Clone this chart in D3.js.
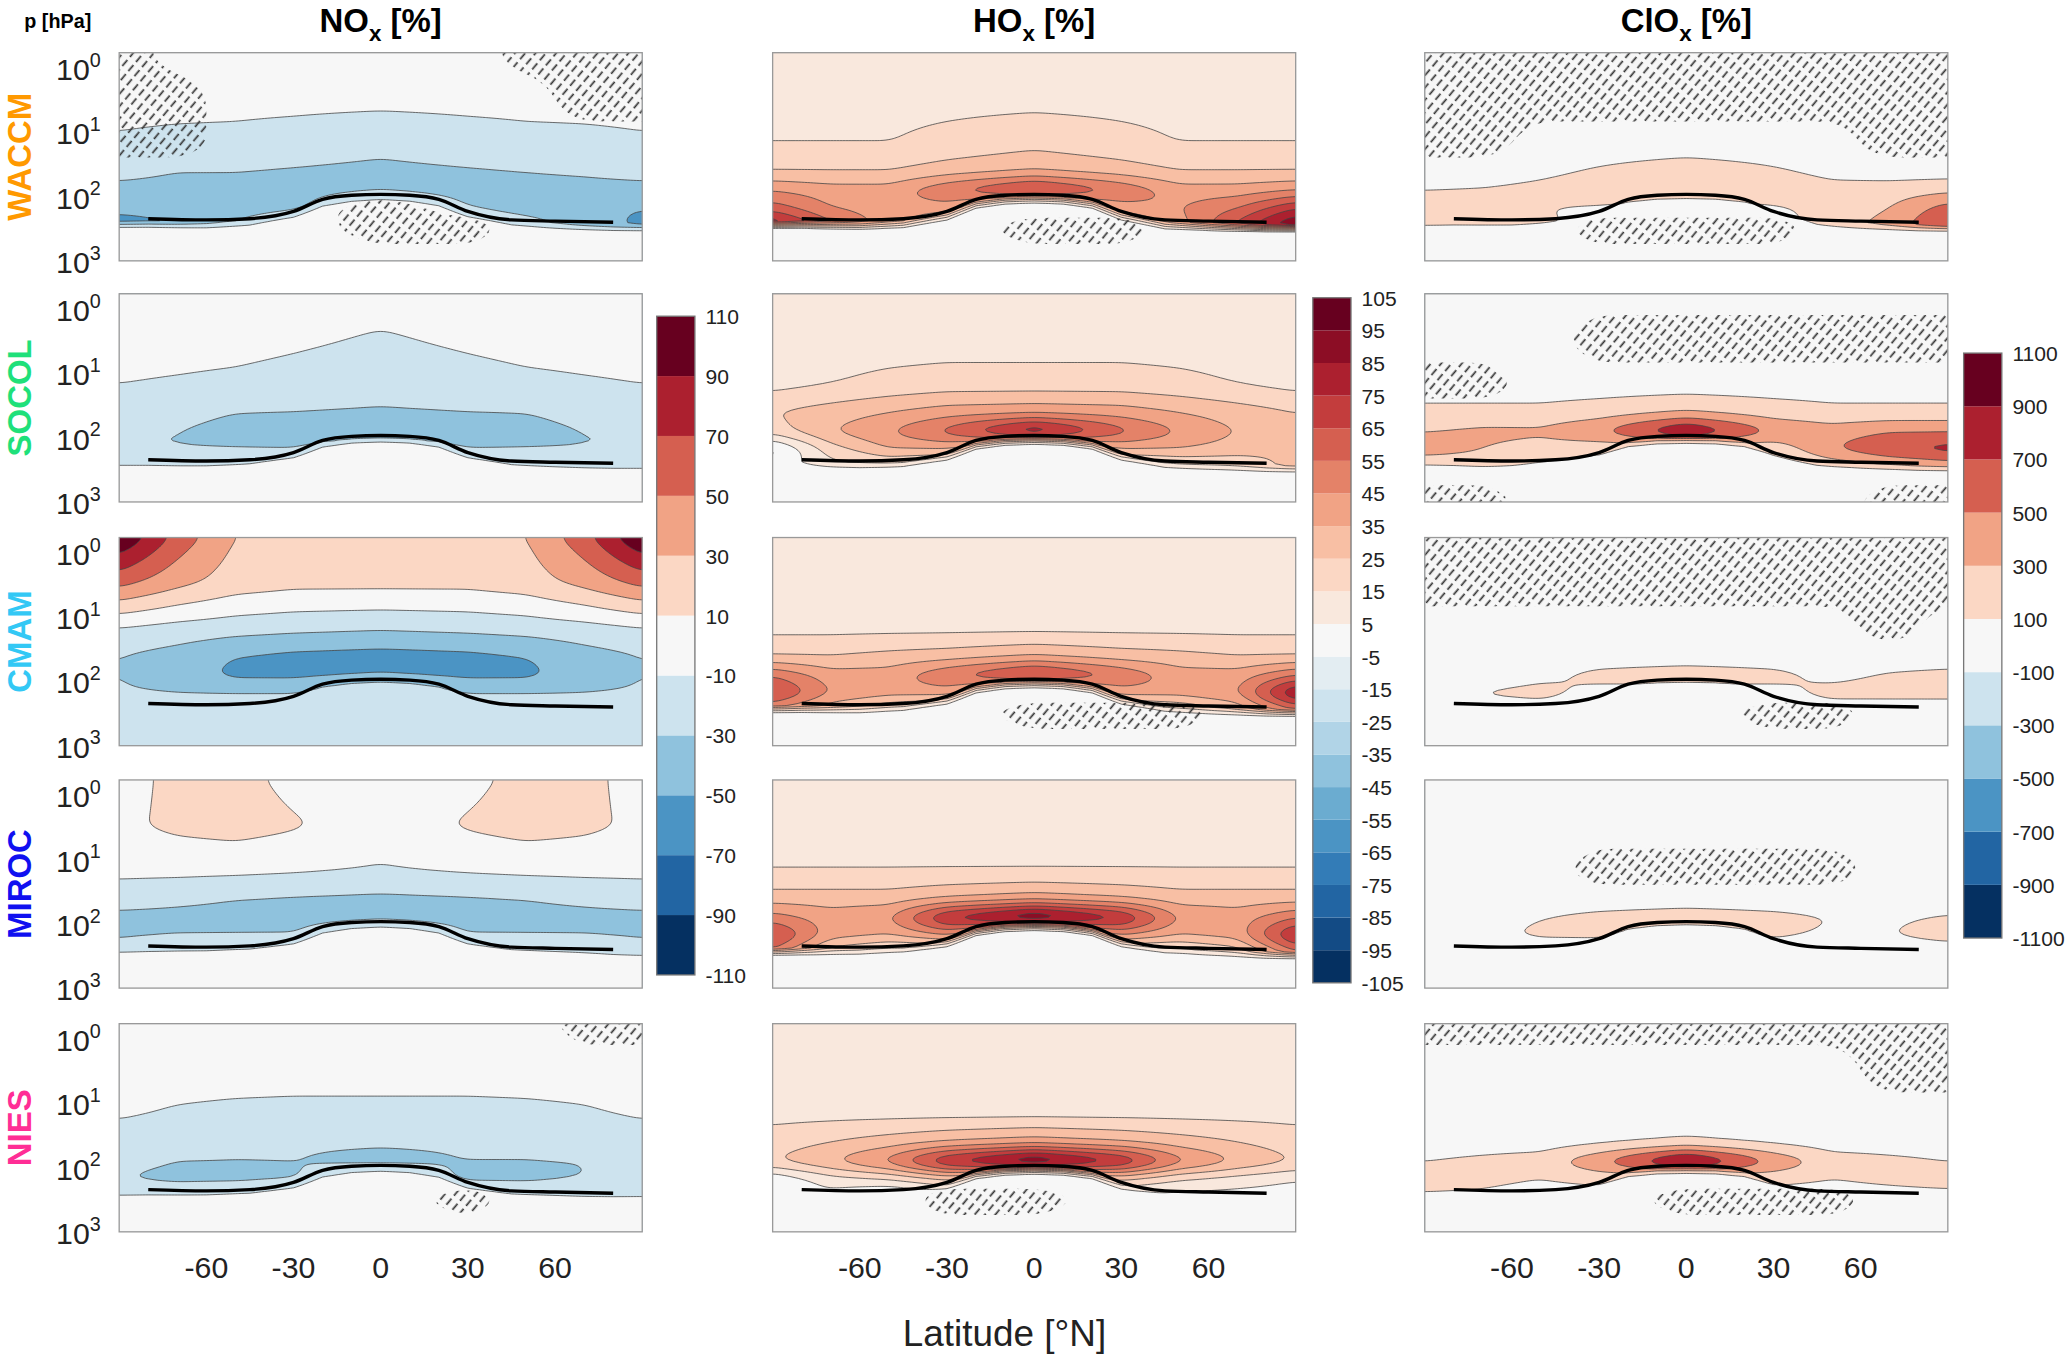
<!DOCTYPE html>
<html><head><meta charset="utf-8">
<script src="https://cdn.jsdelivr.net/npm/d3@7"></script>
<style>body{margin:0;background:#fff}</style></head>
<body><svg id="c" width="2067" height="1357" viewBox="0 0 1568 1030"></svg>
<script>
// ---------- data ----------
const models = ["WACCM","SOCOL","CMAM","MIROC","NIES"];
const modelColors = ["#ff9900","#1fe07a","#33c8f5","#1010f0","#ff2d95"];
const species = ["NO","HO","ClO"];
const gridLats = [-90,-70,-50,-30,0,30,50,70,90];
const gridLevels = [1000,300,150,80,40,15,3,0.5]; // rows bottom -> top
const yTickExp = [0,1,2,3];
const xTicks = [-60,-30,0,30,60];
const noxLevels = [-110,-90,-70,-50,-30,-10,10,30,50,70,90,110];
const hoxLevels = [-105,-95,-85,-75,-65,-55,-45,-35,-25,-15,-5,5,15,25,35,45,55,65,75,85,95,105];
const cloxLevels = [-1100,-900,-700,-500,-300,-100,100,300,500,700,900,1100];
const tropLat = [-80,-60,-45,-30,-20,-10,0,10,20,30,45,60,80];
const tropP = [220,230,220,170,110,95,92,95,110,170,230,240,250];

const noxWACCM = [[0,0,0,0,0,0,0,0,0],[-60,-50,-25,0,0,0,-15,-40,-55],[-45,-45,-40,-35,0,-30,-40,-45,-50],[-35,-35,-35,-35,-32,-35,-35,-35,-35],[-25,-30,-30,-32,-35,-32,-30,-28,-25],[-12,-14,-15,-18,-24,-18,-15,-14,-12],[-5,-5,-5,-5,-5,-5,-5,-5,-5],[0,0,0,0,0,0,0,0,0]];
const noxSOCOL = [[0,0,0,0,0,0,0,0,0],[-15,-15,-10,0,0,0,-10,-15,-15],[-30,-30,-30,-30,0,-30,-30,-30,-30],[-30,-30,-35,-42,-52,-42,-35,-30,-30],[-20,-25,-30,-30,-32,-30,-30,-25,-20],[-10,-12,-14,-17,-22,-17,-14,-12,-10],[-3,-3,-4,-7,-12,-7,-4,-3,-3],[-2,-2,-2,-2,-2,-2,-2,-2,-2]];
const noxCMAM = [[-12,-12,-12,-12,-12,-12,-12,-12,-12],[-15,-15,-12,-12,-12,-12,-12,-15,-15],[-28,-30,-30,-30,-5,-30,-30,-30,-28],[-30,-40,-55,-55,-50,-55,-55,-40,-30],[-30,-38,-50,-55,-58,-55,-50,-38,-30],[-12,-18,-22,-25,-28,-25,-22,-18,-12],[55,35,20,15,15,15,20,35,55],[115,65,30,25,25,25,30,65,115]];
const noxMIROC = [[0,0,0,0,0,0,0,0,0],[-20,-10,-5,0,0,0,-5,-10,-20],[-32,-30,-30,-30,0,-30,-30,-30,-32],[-35,-35,-35,-35,-35,-35,-35,-35,-35],[-22,-26,-30,-32,-34,-32,-30,-26,-22],[-5,-5,-6,-8,-12,-8,-6,-5,-5],[6,14,18,12,0,12,18,14,6],[4,14,15,5,0,5,15,14,4]];
const noxNIES = [[0,0,0,0,0,0,0,0,0],[-15,-10,-5,0,0,0,-5,-10,-10],[-30,-35,-35,-32,-5,-35,-35,-30,-25],[-25,-30,-30,-30,-35,-30,-30,-30,-25],[-20,-25,-28,-28,-28,-28,-28,-25,-20],[-8,-12,-14,-15,-15,-15,-14,-12,-8],[-3,-3,-3,-3,-3,-3,-3,-3,-3],[-2,-2,-2,-2,-2,-2,-2,-2,-2]];

const hoxWACCM = [[0,0,0,0,0,0,0,0,0],[90,60,40,15,0,15,40,70,100],[60,45,40,40,3,40,45,55,75],[45,40,40,55,75,55,40,40,45],[25,25,25,30,35,30,25,25,25],[15,15,15,18,22,18,15,15,15],[12,12,12,12,12,12,12,12,12],[12,12,12,12,12,12,12,12,12]];
const hoxSOCOL = [[0,0,0,0,0,0,0,0,0],[0,10,10,0,0,0,10,15,30],[-10,20,35,35,5,35,35,30,25],[20,35,45,60,90,60,45,35,30],[25,30,35,40,42,40,35,30,25],[12,15,18,20,20,20,18,15,12],[10,10,10,10,10,10,10,10,10],[10,10,10,10,10,10,10,10,10]];
const hoxCMAM = [[0,0,0,0,0,0,0,0,0],[40,25,10,0,0,0,10,25,50],[70,45,40,40,0,40,40,45,90],[55,40,40,55,75,55,40,40,55],[25,25,28,30,35,30,28,25,25],[12,12,12,12,12,12,12,12,12],[10,10,10,10,10,10,10,10,10],[10,10,10,10,10,10,10,10,10]];
const hoxMIROC = [[0,0,0,0,0,0,0,0,0],[50,15,5,0,0,0,5,15,50],[70,40,35,45,0,45,35,40,80],[50,40,45,80,105,80,45,40,55],[30,30,30,35,40,35,30,30,30],[15,15,15,15,15,15,15,15,15],[12,12,12,12,12,12,12,12,12],[8,8,8,8,8,8,8,8,8]];
const hoxNIES = [[0,0,0,0,0,0,0,0,0],[0,0,-12,-4,0,0,0,0,0],[-5,10,15,25,0,25,15,10,5],[25,35,50,80,105,80,50,35,25],[20,25,30,35,40,35,30,25,20],[12,12,12,12,12,12,12,12,12],[10,10,10,10,10,10,10,10,10],[10,10,10,10,10,10,10,10,10]];

const cloxWACCM = [[0,0,0,0,0,0,0,0,0],[250,200,150,0,0,0,200,400,750],[200,150,100,80,0,80,150,300,600],[100,120,150,200,250,200,150,200,250],[0,0,60,120,200,120,60,0,0],[0,0,0,0,0,0,0,0,0],[0,0,0,0,0,0,0,0,0],[0,0,0,0,0,0,0,0,0]];
const cloxSOCOL = [[0,0,0,0,0,0,0,0,0],[100,200,50,0,0,0,100,200,300],[400,300,200,150,0,150,500,700,800],[300,350,350,500,1000,500,400,500,500],[150,150,150,200,300,200,150,150,150],[0,0,0,0,0,0,0,0,0],[0,0,0,0,0,0,0,0,0],[0,0,0,0,0,0,0,0,0]];
const cloxCMAM = [[0,0,0,0,0,0,0,0,0],[0,0,0,0,0,0,0,0,0],[0,120,150,50,0,50,150,150,150],[0,0,60,150,200,150,60,120,150],[0,0,0,0,0,0,0,0,0],[0,0,0,0,0,0,0,0,0],[0,0,0,0,0,0,0,0,0],[0,0,0,0,0,0,0,0,0]];
const cloxMIROC = [[0,0,0,0,0,0,0,0,0],[0,0,0,0,0,0,0,0,0],[50,80,120,120,0,120,80,100,150],[50,50,100,150,200,150,100,80,120],[0,0,0,0,0,0,0,0,0],[0,0,0,0,0,0,0,0,0],[0,0,0,0,0,0,0,0,0],[0,0,0,0,0,0,0,0,0]];
const cloxNIES = [[0,0,0,0,0,0,0,0,0],[50,50,0,0,0,0,0,0,0],[200,150,100,150,0,150,100,150,200],[100,150,200,500,1100,500,200,150,100],[0,0,0,50,120,50,0,0,0],[0,0,0,0,0,0,0,0,0],[0,0,0,0,0,0,0,0,0],[0,0,0,0,0,0,0,0,0]];

// significance hatching (1 = hatched), same grid
const Z = [0,0,0,0,0,0,0,0,0], O = [1,1,1,1,1,1,1,1,1];
const sigNoxWACCM = [Z,[0,0,0,0,1,1,0,0,0],[0,0,0,0,1,0,0,0,0],Z,Z,[1,1,0,0,0,0,0,0,0],[1,1,0,0,0,0,0,1,1],[1,0,0,0,0,0,1,1,1]];
const sigNoxNIES = [Z,[0,0,0,0,0,1,0,0,0],Z,Z,Z,Z,Z,[0,0,0,0,0,0,0,1,1]];
const sigHoxWACCM = [Z,[0,0,0,0,1,1,0,0,0],Z,Z,Z,Z,Z,Z];
const sigHoxCMAM = [Z,[0,0,0,0,1,1,1,0,0],Z,Z,Z,Z,Z,Z];
const sigHoxNIES = [Z,[0,0,0,1,1,0,0,0,0],Z,Z,Z,Z,Z,Z];
const sigCloxWACCM = [Z,[0,0,0,1,1,1,0,0,0],Z,Z,Z,[1,1,0,0,0,0,0,1,1],O,O];
const sigCloxSOCOL = [[1,1,0,0,0,0,0,1,1],Z,Z,Z,Z,[1,1,0,0,0,0,0,0,0],[0,0,0,1,1,1,1,1,1],Z];
const sigCloxCMAM = [Z,[0,0,0,0,0,1,1,0,0],Z,Z,Z,[0,0,0,0,0,0,0,1,0],O,O];
const sigCloxMIROC = [Z,Z,Z,Z,Z,[0,0,0,1,1,1,1,0,0],Z,Z];
const sigCloxNIES = [Z,[0,0,0,0,1,1,1,0,0],Z,Z,Z,Z,[0,0,0,0,0,0,0,1,1],O];

const fields = [
  [noxWACCM,noxSOCOL,noxCMAM,noxMIROC,noxNIES],
  [hoxWACCM,hoxSOCOL,hoxCMAM,hoxMIROC,hoxNIES],
  [cloxWACCM,cloxSOCOL,cloxCMAM,cloxMIROC,cloxNIES]];
const sigs = [
  [sigNoxWACCM,null,null,null,sigNoxNIES],
  [sigHoxWACCM,null,sigHoxCMAM,null,sigHoxNIES],
  [sigCloxWACCM,sigCloxSOCOL,sigCloxCMAM,sigCloxMIROC,sigCloxNIES]];
const levelSets = [noxLevels,hoxLevels,cloxLevels];

// ---------- layout ----------
const colX = [90,586,1081], panelW = 397;
const rowY = [40,223,408,592,777], panelH = 158;
const cbars = [{x:498,y0:240,y1:740},{x:996,y0:226,y1:746},{x:1490,y0:268,y1:712}];
const svg = d3.select("#c");
const font = "Helvetica, Arial, 'Liberation Sans', sans-serif";

const defs = svg.append("defs");
const pat = defs.append("pattern").attr("id","hatch").attr("patternUnits","userSpaceOnUse")
  .attr("width",6).attr("height",9).attr("patternTransform","rotate(40)");
pat.append("line").attr("x1",1).attr("y1",0).attr("x2",1).attr("y2",6).attr("stroke","#333").attr("stroke-width",1.3);

const nx = 181, ny = 110;
const pTop = 0.57;
const latIdx = d3.scaleLinear().domain(gridLats).range(d3.range(gridLats.length)).clamp(true);
const lvIdx = d3.scaleLinear().domain(gridLevels.map(Math.log10)).range(d3.range(gridLevels.length)).clamp(true);
const tropAt = d3.scaleLinear().domain(tropLat).range(tropP.map(Math.log10)).clamp(true);

function buildGrid(f, useMask, blurR){
  const v = new Float64Array(nx*ny);
  for(let j=0;j<ny;j++){
    const lp = Math.log10(pTop) + j*(3-Math.log10(pTop))/(ny-1);
    const fy = lvIdx(lp), y0 = Math.min(Math.floor(fy), gridLevels.length-2), ty = fy-y0;
    for(let i=0;i<nx;i++){
      const lat = -90 + i*180/(nx-1);
      const fx = latIdx(lat), x0 = Math.min(Math.floor(fx), gridLats.length-2), tx = fx-x0;
      const a = f[y0][x0]*(1-tx)+f[y0][x0+1]*tx;
      const b = f[y0+1][x0]*(1-tx)+f[y0+1][x0+1]*tx;
      v[j*nx+i] = a*(1-ty)+b*ty;
    }
  }
  d3.blur2({data:v,width:nx,height:ny},blurR);
  if(useMask){
    for(let j=0;j<ny;j++){
      const lp = Math.log10(pTop) + j*(3-Math.log10(pTop))/(ny-1);
      for(let i=0;i<nx;i++){
        const lat = -90 + i*180/(nx-1);
        const d = lp - tropAt(lat);
        const m = d<0.03 ? 1 : d>0.16 ? 0 : 1-(d-0.03)/0.13;
        const fx = latIdx(lat), x0 = Math.min(Math.floor(fx), gridLats.length-2), tx = fx-x0;
        const base = f[0][x0]*(1-tx)+f[0][x0+1]*tx;
        v[j*nx+i] = base + (v[j*nx+i]-base)*m;
      }
    }
  }
  return v;
}

svg.append("text").attr("x",18).attr("y",21).attr("font-family",font).attr("font-weight","bold").attr("font-size",15).text("p [hPa]");

species.forEach((sp,c)=>{
  const levels = levelSets[c];
  const nb = levels.length-1;
  const colors = d3.quantize(t=>d3.interpolateRdBu(1-t), nb);
  colors[(nb-1)/2] = "#f7f7f7";
  const thr = levels.slice(1,-1);
  const t = svg.append("text").attr("x",colX[c]+panelW/2).attr("y",24).attr("text-anchor","middle")
    .attr("font-family",font).attr("font-weight","bold").attr("font-size",25);
  t.append("tspan").text(sp);
  t.append("tspan").attr("font-size",17).attr("dy",7).text("x");
  t.append("tspan").attr("dy",-7).text(" [%]");

  models.forEach((m,r)=>{
    const x0=colX[c], y0=rowY[r];
    const xs = d3.scaleLinear().domain([-90,90]).range([x0,x0+panelW]);
    const ys = d3.scaleLog().domain([1000,pTop]).range([y0+panelH,y0]);
    const g = svg.append("g");
    const cid = `clip${c}_${r}`;
    g.append("clipPath").attr("id",cid).append("rect").attr("x",x0).attr("y",y0).attr("width",panelW).attr("height",panelH);
    const inner = g.append("g").attr("clip-path",`url(#${cid})`);
    inner.append("rect").attr("x",x0).attr("y",y0).attr("width",panelW).attr("height",panelH).attr("fill",colors[0]);
    const grid = buildGrid(fields[c][r], true, 2);
    const proj = d3.geoTransform({point:function(x,y){
      const lat = -90 + (x-0.5)*180/(nx-1);
      const lp = Math.log10(pTop) + (y-0.5)*(3-Math.log10(pTop))/(ny-1);
      this.stream.point(xs(lat), ys(Math.pow(10,lp)));
    }});
    const path = d3.geoPath(proj);
    const conts = d3.contours().size([nx,ny]).thresholds(thr)(grid);
    inner.selectAll("path.f").data(conts).join("path").attr("d",path)
      .attr("fill",(d,i)=>colors[i+1]).attr("stroke","#444").attr("stroke-width",0.6);
    const sg = sigs[c][r];
    if(sg){
      const sgrid = buildGrid(sg, false, 3);
      const sc = d3.contours().size([nx,ny]).thresholds([0.5])(sgrid);
      inner.selectAll("path.h").data(sc).join("path").attr("d",path).attr("fill","url(#hatch)").attr("stroke","none");
    }
    // tropopause
    const line = d3.line().x((d,i)=>xs(tropLat[i])).y(d=>ys(d)).curve(d3.curveMonotoneX);
    inner.append("path").attr("d",line(tropP)).attr("fill","none").attr("stroke","#000").attr("stroke-width",2.6);
    g.append("rect").attr("x",x0).attr("y",y0).attr("width",panelW).attr("height",panelH)
      .attr("fill","none").attr("stroke","#999").attr("stroke-width",1);
    if(c===0){
      yTickExp.forEach(e=>{
        const tt = g.append("text").attr("x",x0-14).attr("y",ys(Math.pow(10,e))+9).attr("text-anchor","end")
          .attr("font-family",font).attr("font-size",23).attr("fill","#222");
        tt.append("tspan").text("10");
        tt.append("tspan").attr("font-size",15).attr("dy",-10).text(e);
      });
      svg.append("text").attr("transform",`translate(${23},${y0+panelH/2}) rotate(-90)`)
        .attr("text-anchor","middle").attr("font-family",font).attr("font-weight","bold")
        .attr("font-size",25).attr("fill",modelColors[r]).text(m);
    }
    if(r===4){
      xTicks.forEach(v=>{
        g.append("text").attr("x",xs(v)).attr("y",y0+panelH+35).attr("text-anchor","middle")
          .attr("font-family",font).attr("font-size",23).attr("fill","#222").text(v);
      });
    }
  });
  // colorbar
  const cb = cbars[c];
  const cy = d3.scaleLinear().domain([levels[0],levels[nb]]).range([cb.y1,cb.y0]);
  const cg = svg.append("g");
  d3.range(nb).forEach(k=>{
    cg.append("rect").attr("x",cb.x).attr("y",cy(levels[k+1])).attr("width",29)
      .attr("height",cy(levels[k])-cy(levels[k+1])).attr("fill",colors[k]);
  });
  cg.append("rect").attr("x",cb.x).attr("y",cb.y0).attr("width",29).attr("height",cb.y1-cb.y0)
    .attr("fill","none").attr("stroke","#777");
  levels.forEach(v=>{
    cg.append("text").attr("x",cb.x+37).attr("y",cy(v)+6).attr("font-family",font)
      .attr("font-size",16).attr("fill","#222").text(v);
  });
});
svg.append("text").attr("x",762).attr("y",1022).attr("text-anchor","middle").attr("font-family",font)
  .attr("font-size",28).attr("fill","#222").text("Latitude [°N]");
</script></body></html>
